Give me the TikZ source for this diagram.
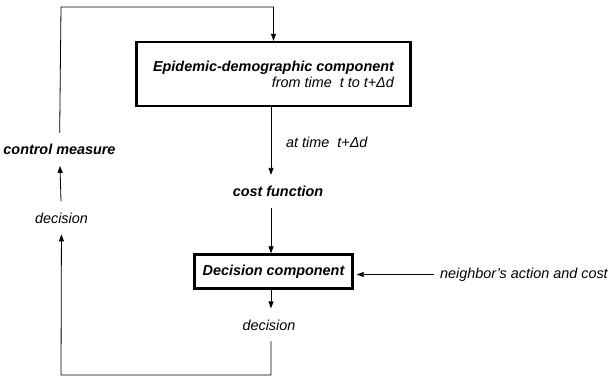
\documentclass[tikz,border=0pt]{standalone}
\usepackage{fontspec}
\setmainfont{Liberation Sans}
\usetikzlibrary{arrows.meta}
\newcommand\diafont{\fontsize{14.4}{16}\selectfont}

\begin{document}
\begin{tikzpicture}[x=1pt,y=-1pt,
      comp/.style={
        draw,line width=2.4pt,font=\diafont\bfseries\itshape
      },
      lbl/.style={inner xsep=6pt,inner ysep=11pt,font=\diafont\itshape},
      link/.style={line width=0.8pt,-{Triangle[length=7pt,width=5pt]}}
    ]
    \useasboundingbox (0,0) rectangle (610,376);
    \node [comp,minimum width=274pt,minimum height=64pt,align=right] (epi) at (273.5,74)
      {Epidemic-demographic component\\{\mdseries from time\ \ t to t+Δd}};
    \node [comp,minimum width=158pt,minimum height=34pt] (dec) at (273.5,271.5) {Decision component};
    \node [lbl,anchor=base west] (time) at (280,147) {at time\ \ t+Δd};
    \node [lbl,font=\diafont\bfseries\itshape,anchor=base] (cost) at (278,196.5) {cost function};
    \node [lbl,anchor=base] (out) at (269,330) {decision};
    \node [lbl,anchor=base] (back) at (61.5,223) {decision};
    \node [lbl,font=\diafont\bfseries\itshape,anchor=base] (ctrl) at (59.5,154.5) {control measure};
    \node [lbl,anchor=west] (nb) at (434,274.5) {neighbor's action and cost};
    \coordinate (tl) at (61,7);
    \coordinate (bl) at (61,375);
    % main column
    \draw [link] ([xshift=-2.5pt]epi.south) -- ([xshift=-2.5pt]epi.south |- cost.north);
    \draw [link] ([xshift=-2.5pt]dec.north |- cost.south) -- ([xshift=-2.5pt]dec.north);
    \draw [link] ([xshift=-2.5pt]dec.south) -- ([xshift=-2.5pt]dec.south |- out.north);
    \draw [link,shorten >=3pt] (nb.west) -- (nb.west -| dec.east);
    % feedback loop
    \draw [link] ([xshift=2pt]out.south) |- (bl) -- (back);
    \draw [link] (back) -- (ctrl);
    \draw [link] (ctrl) -- (tl) -| (epi.north);
  \end{tikzpicture}
\end{document}
